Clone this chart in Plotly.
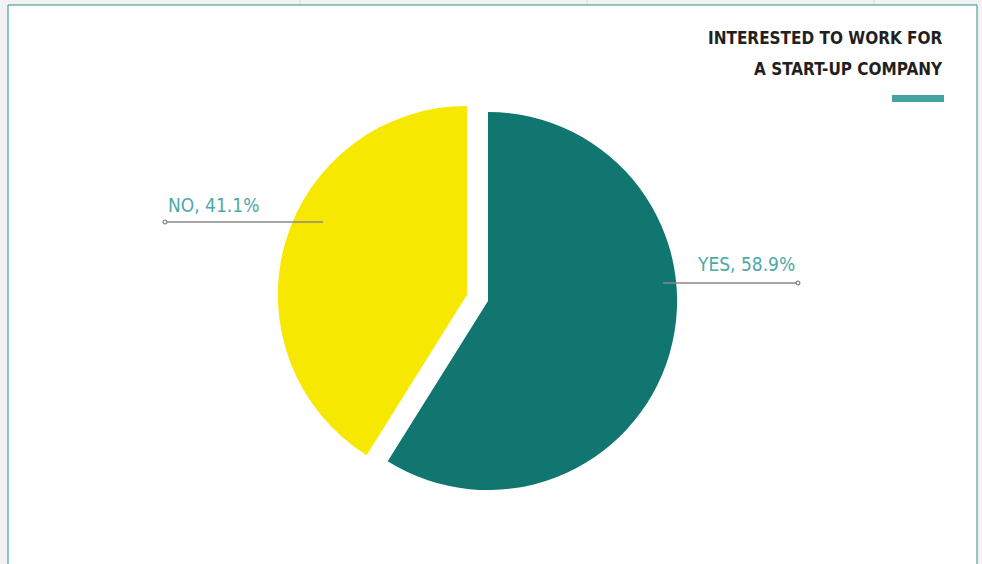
import plotly.graph_objects as go

labels = ["YES", "NO"]
values = [58.9, 41.1]
colors = ["#10766f", "#f7e800"]
pulls = [0, 0.116]
title_lines = ["INTERESTED TO WORK FOR", "A START-UP COMPANY"]

W, H = 982, 564
def px(x): return x / W
def py(y): return 1 - y / H

fig = go.Figure()
fig.add_trace(go.Pie(
    labels=labels, values=values, sort=False, direction="clockwise", rotation=0,
    pull=pulls, marker=dict(colors=colors, line=dict(width=0)),
    textinfo="none", hoverinfo="label+percent", showlegend=False,
    domain=dict(x=[px(277), px(699)], y=[py(512), py(90)]),
))

shapes = []
# page chrome
shapes.append(dict(type="rect", xref="paper", yref="paper", x0=0, x1=1, y0=0, y1=1,
                   fillcolor="#f2f2f2", line=dict(width=0), layer="below"))
for xv in [300, 587, 874]:
    shapes.append(dict(type="line", xref="paper", yref="paper", x0=px(xv), x1=px(xv),
                       y0=py(5), y1=1, line=dict(color="#d9d9d9", width=1), layer="below"))
shapes.append(dict(type="rect", xref="paper", yref="paper", x0=px(8), x1=px(977),
                   y0=-0.01, y1=py(5), fillcolor="white",
                   line=dict(color="#2f8f8f", width=1), layer="below"))
# title bar
shapes.append(dict(type="rect", xref="paper", yref="paper", x0=px(892), x1=px(944),
                   y0=py(102), y1=py(95), fillcolor="#46a3a3", line=dict(width=0)))
# leader lines
leaders = [
    (165, 323, 222, 165),  # NO: x0, x1, y, circle x
    (663, 798, 283, 798),  # YES
]
for x0, x1, yv, cx in leaders:
    shapes.append(dict(type="line", xref="paper", yref="paper", x0=px(x0), x1=px(x1),
                       y0=py(yv), y1=py(yv), line=dict(color="#8a8a8a", width=1.5)))
    shapes.append(dict(type="circle", xref="paper", yref="paper", x0=px(cx - 2), x1=px(cx + 2),
                       y0=py(yv + 2), y1=py(yv - 2), fillcolor="white",
                       line=dict(color="#666666", width=1)))

label_font = dict(family="DejaVu Sans Condensed, Liberation Sans Narrow, Arial Narrow, sans-serif",
                  size=19, color="#4ea8a8")
title_font = dict(family="DejaVu Sans Condensed, Liberation Sans Narrow, Arial Narrow, sans-serif",
                  size=17, color="#231f20")

total = sum(values)
annotations = [
    dict(text=f"{labels[1]}, {values[1]/total*100:.1f}%", x=px(166), y=py(205), xref="paper", yref="paper",
         xanchor="left", yanchor="middle", showarrow=False, font=label_font),
    dict(text=f"{labels[0]}, {values[0]/total*100:.1f}%", x=px(797), y=py(264), xref="paper", yref="paper",
         xanchor="right", yanchor="middle", showarrow=False, font=label_font),
    dict(text=f"<b>{title_lines[0]}</b>", x=px(945), y=py(38), xref="paper", yref="paper",
         xanchor="right", yanchor="middle", showarrow=False, font=title_font),
    dict(text=f"<b>{title_lines[1]}</b>", x=px(945), y=py(69), xref="paper", yref="paper",
         xanchor="right", yanchor="middle", showarrow=False, font=title_font),
]

fig.update_layout(width=W, height=H, margin=dict(l=0, r=0, t=0, b=0),
                  paper_bgcolor="white", plot_bgcolor="white",
                  shapes=shapes, annotations=annotations)
fig.write_html("out.html")
